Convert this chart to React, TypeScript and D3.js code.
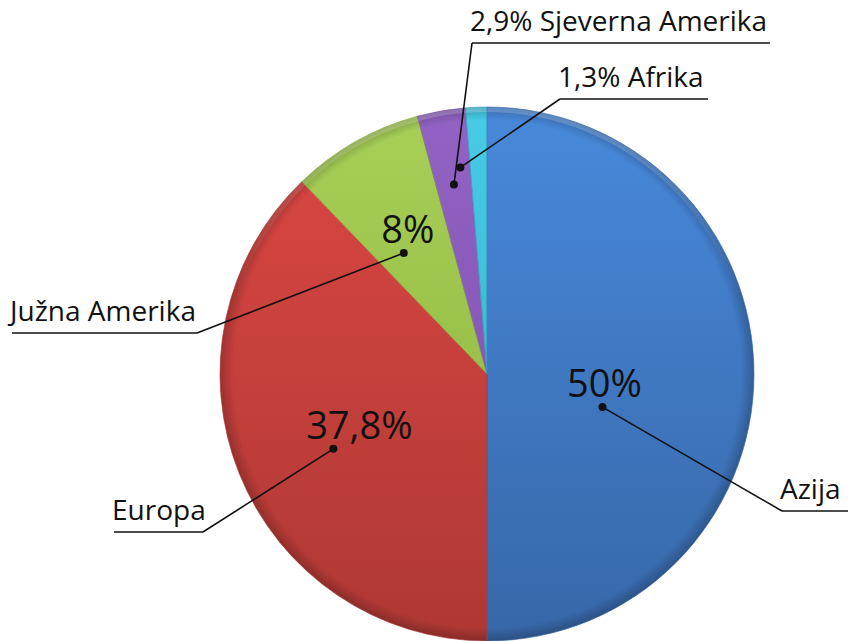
import React from "react";
import * as d3 from "d3";

const categories = ["Azija", "Europa", "Južna Amerika", "Sjeverna Amerika", "Afrika"];
const values = [50, 37.8, 8, 2.9, 1.3];
const topColors = ["#4889db", "#dd4743", "#a8d057", "#9263c4", "#48cbe6"];
const bottomColors = ["#3767a8", "#ae3834", "#8ab23e", "#7a4ca8", "#2fa8c6"];

// label layout: outer label text box, dot radius fraction, angle offset (deg), inner % text offset
const outerText = ["Azija", "Europa", "Južna Amerika", "2,9% Sjeverna Amerika", "1,3% Afrika"];
const innerText = ["50%", "37,8%", "8%", "", ""];
const labelX = [782, 114, 12, 472, 560];
const labelY = [511, 532, 333, 43, 99];
const labelW = [66, 89, 185, 298, 148];
const dotR = [0.45, 0.64, 0.55, 0.72, 0.78];
const dotAngleOffset = [16, -4, -5, 0, -5];
const innerDx = [2, 26, 4, 0, 0];

const W = 848, H = 641;
const cx = 487, cy = 374, R = 267;

export default function App() {
  const pie = d3.pie<number>().sort(null).value((d) => d)(values);
  const arc = d3.arc<d3.PieArcDatum<number>>().innerRadius(0).outerRadius(R);
  const rim = d3.arc<d3.PieArcDatum<number>>().innerRadius(R - 5).outerRadius(R);
  const font = "'Open Sans', sans-serif";
  return (
    <div style={{ position: "fixed", left: 0, top: 0, width: W, height: H, background: "#fff" }}>
      <svg width={W} height={H}>
        <defs>
          {values.map((_, i) => (
            <linearGradient key={i} id={`g${i}`} x1="0" y1={-R} x2="0" y2={R} gradientUnits="userSpaceOnUse">
              <stop offset="0" stopColor={topColors[i]} />
              <stop offset="1" stopColor={bottomColors[i]} />
            </linearGradient>
          ))}
          <radialGradient id="shade" cx="0" cy="0" r={R} gradientUnits="userSpaceOnUse">
            <stop offset="0.95" stopColor="#000" stopOpacity="0" />
            <stop offset="1" stopColor="#000" stopOpacity="0.22" />
          </radialGradient>
          <linearGradient id="rimLight" x1="0" y1={-R} x2="0" y2={R} gradientUnits="userSpaceOnUse">
            <stop offset="0" stopColor="#fff" stopOpacity="0.2" />
            <stop offset="0.35" stopColor="#fff" stopOpacity="0" />
          </linearGradient>
        </defs>
        <g transform={`translate(${cx},${cy})`}>
          {pie.map((p, i) => (
            <path key={i} d={arc(p) || ""} fill={`url(#g${i})`} />
          ))}
          <circle r={R} fill="url(#shade)" />
          {pie.map((p, i) => (
            <path key={"r" + i} d={rim(p) || ""} fill="url(#rimLight)" />
          ))}
          {pie.map((p, i) => (
            <path key={"e" + i} d={arc(p) || ""} fill="none" stroke={bottomColors[i]} strokeOpacity={0.6} strokeWidth={1} />
          ))}
        </g>
        {pie.map((p, i) => {
          const mid = (p.startAngle + p.endAngle) / 2 + (dotAngleOffset[i] * Math.PI) / 180;
          const r = dotR[i] * R;
          const dx = cx + Math.sin(mid) * r;
          const dy = cy - Math.cos(mid) * r;
          const lineStart = i === 0 || i >= 3 ? labelX[i] : labelX[i] + labelW[i];
          return (
            <g key={"l" + i}>
              <text x={labelX[i] - 2} y={labelY[i] - 12} fontFamily={font} fontSize={28} fill="#111">
                {outerText[i]}
              </text>
              <line x1={labelX[i]} x2={labelX[i] + labelW[i]} y1={labelY[i]} y2={labelY[i]} stroke="#111" strokeWidth={1.6} />
              <line x1={lineStart} y1={labelY[i]} x2={dx} y2={dy} stroke="#111" strokeWidth={1.6} />
              <circle cx={dx} cy={dy} r={4} fill="#111" />
              {innerText[i] && (
                <text x={dx + innerDx[i]} y={dy - 10} textAnchor="middle" fontFamily={font} fontSize={38} fill="#111">
                  {innerText[i]}
                </text>
              )}
            </g>
          );
        })}
      </svg>
    </div>
  );
}
